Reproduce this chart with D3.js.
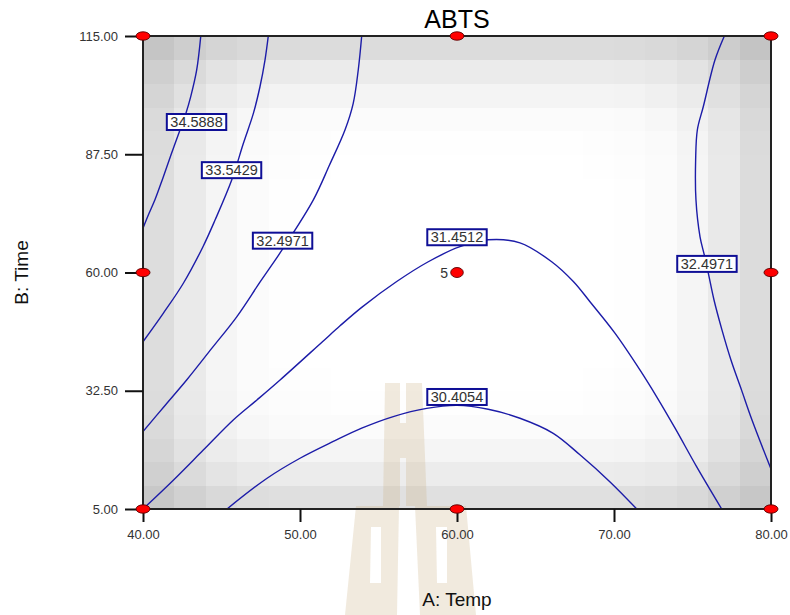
<!DOCTYPE html>
<html><head><meta charset="utf-8">
<script src="https://cdn.jsdelivr.net/npm/d3@7"></script>
<style>
body{margin:0;background:#fff;}
svg{display:block;font-family:"Liberation Sans",Arial,sans-serif;}
</style>
</head><body><svg id="chart" width="790" height="615"></svg>
<script>
// ---------------- data ----------------
const title = "ABTS";
const xLabel = "A: Temp";
const yLabel = "B: Time";
const tempTicks = [40, 50, 60, 70, 80];
const timeTicks = [5, 32.5, 60, 87.5, 115];

// contour polylines: [Temp, Time]
const c34_5888 = [[43.68,115],[43.42,107.1],[43.04,100.9],[42.74,97.1],[42.31,92.7],[41.78,87.3],[41.27,82.0],[40.76,76.9],[40.38,73.7],[40,70.3]];
const c33_5429 = [[47.98,115],[47.77,109.4],[47.45,103.2],[47.03,97.0],[46.39,90.0],[45.65,81.5],[44.59,72.2],[43.82,66.0],[42.57,57.5],[41.29,50.5],[40,43.9]];
const c32_4971L = [[53.93,115],[53.71,107.1],[53.39,99.35],[52.87,93.2],[51.88,85.0],[50.85,76.9],[48.94,65.7],[47.46,57.8],[45.97,49.7],[44.39,42.4],[42.78,35.0],[41.43,29.2],[40,23.0]];
const c31_4512 = [[40,5],[41.93,11.7],[43.84,18.7],[45.75,25.7],[47.24,30.3],[48.73,35.0],[51.43,43.9],[52.55,47.6],[53.93,51.9],[56.16,57.9],[58.17,62.5],[60.19,66.0],[61.97,67.6],[64.01,66.9],[66.03,62.5],[67.41,57.9],[68.47,53.2],[70.06,45.9],[71.66,37.3],[72.72,31.1],[73.89,23.8],[75.27,14.8],[76.86,5]];
const c30_4054 = [[45.35,5],[47.88,12.1],[50.0,16.8],[52.12,20.7],[53.93,23.8],[55.94,26.5],[58.07,28.4],[60.0,29.1],[61.99,28.2],[64.01,26.1],[66.13,22.6],[67.83,17.6],[69.75,11.3],[71.45,5]];
const c32_4971R = [[77.03,115],[76.43,109.4],[75.69,98.6],[75.31,93.2],[75.20,86.2],[75.22,76.9],[75.48,68.3],[75.75,64.1],[76.01,59.8],[76.37,53.6],[76.88,46.6],[77.45,39.65],[78.12,32.7],[78.79,25.7],[80,14.3]];
const contourLines = [c34_5888, c33_5429, c32_4971L, c31_4512, c30_4054, c32_4971R];

// contour labels: value and position [Temp, Time]
const labelValues = ["34.5888", "33.5429", "32.4971", "31.4512", "30.4054", "32.4971"];
const labelTemp   = [43.41, 45.64, 48.89, 60.0, 60.0, 75.92];
const labelTime   = [95.0, 83.8, 67.4, 68.2, 31.05, 62.0];

// design points
const designTemp = [40, 60, 80];
const designTime = [5, 60, 115];
const centerRuns = 5;

// standard-error shading (darkness) per 2-unit Temp column and per 5.5-unit Time row (from Time=5 upwards)
const seCol = [34,21,10,4,1.5,0.5,0,0,0,0,0,0,0,0,0.5,1.5,4,10,22,35];
const seRow = [31,19,10,4,1.5,0.5,0,0,0,0,0,0,0,0,0.5,1.5,4,11,20,35];

// ---------------- chart ----------------
const svg = d3.select("#chart");
const L = 143, R = 771, T = 36, B = 509;
const x = d3.scaleLinear().domain([40, 80]).range([L, R]);
const y = d3.scaleLinear().domain([5, 115]).range([B, T]);

// shading cells
const cells = [];
seCol.forEach((c, i) => seRow.forEach((r, j) => cells.push({i, j, d: c + r - c * r / 110})));
const colW = 40 / seCol.length, rowH = 110 / seRow.length;
svg.append("g").attr("shape-rendering", "crispEdges").selectAll("rect").data(cells).join("rect")
  .attr("x", d => x(40 + d.i * colW))
  .attr("y", d => y(5 + (d.j + 1) * rowH))
  .attr("width", d => x(40 + (d.i + 1) * colW) - x(40 + d.i * colW) + 0.6)
  .attr("height", d => y(5 + d.j * rowH) - y(5 + (d.j + 1) * rowH) + 0.6)
  .attr("fill", d => { const g = Math.round(255 - d.d); return `rgb(${g},${g},${g})`; });

// watermark (decorative)
svg.append("path")
  .attr("d", "M385,383H422L427,506H383Z M400,383H406V423H400Z M400,458H406V506H400Z" +
             "M356,506H399L397,615H345Z M371,527H381V583H370Z" +
             "M415,506H466L476,615H420Z M436,527H447V583H437Z")
  .attr("fill", "rgb(204,178,135)").attr("fill-opacity", 0.28).attr("fill-rule", "evenodd");

// contour lines
svg.append("clipPath").attr("id", "clip").append("rect")
  .attr("x", L).attr("y", T).attr("width", R - L).attr("height", B - T);
const line = d3.line().x(d => x(d[0])).y(d => y(d[1])).curve(d3.curveCatmullRom.alpha(0.5));
svg.append("g").attr("clip-path", "url(#clip)")
  .selectAll("path").data(contourLines).join("path")
  .attr("d", line).attr("fill", "none").attr("stroke", "#1c1ca8").attr("stroke-width", 1.4);

// contour labels
const lab = svg.append("g").selectAll("g").data(labelValues).join("g")
  .attr("transform", (d, i) => `translate(${x(labelTemp[i])},${y(labelTime[i])})`);
lab.append("rect").attr("class", "box");
lab.append("text").text(d => d).attr("text-anchor", "middle").attr("dy", "0.36em")
  .attr("font-size", 14.5).attr("fill", "#333");
lab.each(function () {
  const g = d3.select(this);
  const w = g.select("text").node().getComputedTextLength() + 7;
  g.select("rect").attr("x", -w / 2).attr("y", -8).attr("width", w).attr("height", 16)
    .attr("fill", "#fff").attr("stroke", "#0f0f96").attr("stroke-width", 2);
});

// frame
svg.append("rect").attr("x", L).attr("y", T).attr("width", R - L).attr("height", B - T)
  .attr("fill", "none").attr("stroke", "#222").attr("stroke-width", 2);

// axes
const fmt = d3.format(".2f");
const xAxis = svg.append("g").attr("transform", `translate(0,${B})`)
  .call(d3.axisBottom(x).tickValues(tempTicks).tickFormat(fmt).tickSize(13).tickPadding(8));
const yAxis = svg.append("g").attr("transform", `translate(${L},0)`)
  .call(d3.axisLeft(y).tickValues(timeTicks).tickFormat(fmt).tickSize(18).tickPadding(7));
[xAxis, yAxis].forEach(a => {
  a.select(".domain").remove();
  a.selectAll(".tick line").attr("stroke", "#111").attr("stroke-width", 2);
  a.selectAll(".tick text").attr("font-size", 13).attr("fill", "#333")
    .attr("font-family", "'Liberation Sans',Arial,sans-serif");
});

// design points
const pts = [];
designTemp.forEach(a => designTime.forEach(b => pts.push([a, b])));
svg.append("g").selectAll("ellipse").data(pts).join("ellipse")
  .attr("cx", d => x(d[0])).attr("cy", d => y(d[1]))
  .attr("rx", d => (d[0] === 60 && d[1] === 60) ? 6.3 : 7)
  .attr("ry", d => (d[0] === 60 && d[1] === 60) ? 5 : 4.2)
  .attr("fill", "#ff0000").attr("stroke", "#5a0000").attr("stroke-width", 0.9);
svg.append("text").attr("x", x(60) - 9).attr("y", y(60) + 5).attr("text-anchor", "end")
  .attr("font-size", 14).attr("fill", "#333").text(centerRuns);

// titles
svg.append("text").attr("x", x(60)).attr("y", 28).attr("text-anchor", "middle")
  .attr("font-size", 25).attr("fill", "#000").text(title);
svg.append("text").attr("x", x(60)).attr("y", 606).attr("text-anchor", "middle")
  .attr("font-size", 19).attr("fill", "#111").text(xLabel);
svg.append("text").attr("transform", `translate(28,${y(60)}) rotate(-90)`).attr("text-anchor", "middle")
  .attr("font-size", 19).attr("fill", "#111").text(yLabel);
</script>
</body></html>
